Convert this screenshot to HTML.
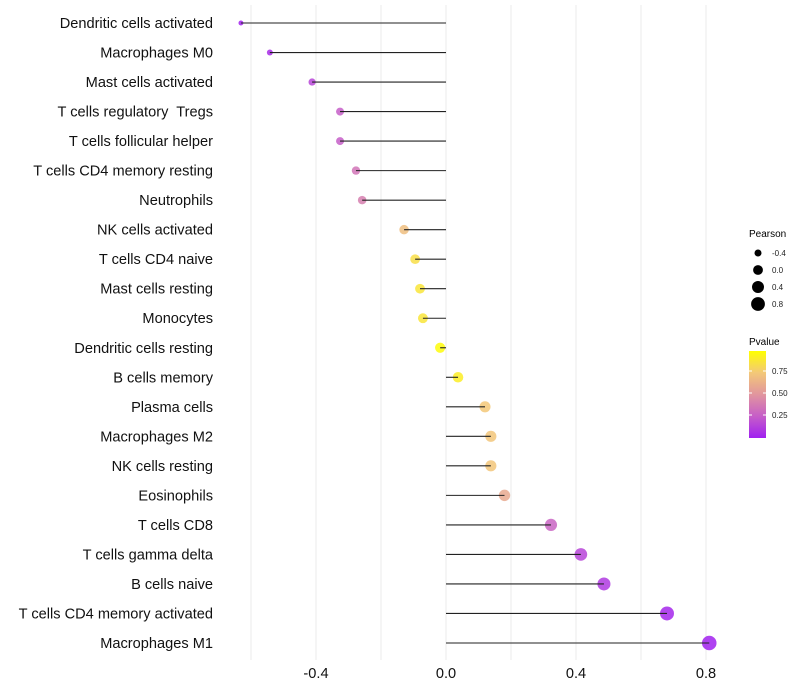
<!DOCTYPE html>
<html><head><meta charset="utf-8"><style>
body{margin:0;background:#fff;}
svg{display:block;font-family:"Liberation Sans",sans-serif;}
text{white-space:pre;}
</style></head><body>
<svg id="chart" width="800" height="700">
<defs>
<linearGradient id="pgrad" x1="0" y1="1" x2="0" y2="0">
<stop offset="0" stop-color="#A020F0"/><stop offset="0.25" stop-color="#C65EC8"/>
<stop offset="0.5" stop-color="#E1959E"/><stop offset="0.75" stop-color="#F3C878"/>
<stop offset="1" stop-color="#FFFF00"/></linearGradient>
</defs>
<g id="grid"></g>
<g id="marks"></g>
<g id="ylabels"></g>
<g id="xlabels"></g>
<g>
<text x="749" y="237" font-size="10">Pearson</text>
<g id="sizeLegend"></g>
</g>
<g>
<text x="749" y="345" font-size="10">Pvalue</text>
<rect x="749" y="351" width="17" height="87" fill="url(#pgrad)"/>
<g id="colorLegend"></g>
</g>
</svg>
<script>
const categories=["Dendritic cells activated","Macrophages M0","Mast cells activated","T cells regulatory  Tregs","T cells follicular helper","T cells CD4 memory resting","Neutrophils","NK cells activated","T cells CD4 naive","Mast cells resting","Monocytes","Dendritic cells resting","B cells memory","Plasma cells","Macrophages M2","NK cells resting","Eosinophils","T cells CD8","T cells gamma delta","B cells naive","T cells CD4 memory activated","Macrophages M1"];
const pearson=[-0.631,-0.542,-0.412,-0.326,-0.326,-0.277,-0.258,-0.129,-0.095,-0.08,-0.071,-0.018,0.037,0.12,0.138,0.138,0.18,0.323,0.415,0.486,0.68,0.81];
const pvalue=[0.01,0.05,0.15,0.25,0.25,0.35,0.4,0.7,0.85,0.88,0.88,0.98,0.92,0.75,0.74,0.74,0.6,0.28,0.15,0.1,0.03,0.005];
const xTicks=[-0.4,0,0.4,0.8];
const xTickLabels=["-0.4","0.0","0.4","0.8"];
const gridVals=[-0.6,-0.4,-0.2,0,0.2,0.4,0.6,0.8];
const sizeLegendVals=[-0.4,0,0.4,0.8];
const sizeLegendLabels=["-0.4","0.0","0.4","0.8"];
const colorLegendVals=[0.25,0.5,0.75];
const colorLegendLabels=["0.25","0.50","0.75"];

const NS="http://www.w3.org/2000/svg";
const x=v=>446+v*325;
const y=i=>23+i*(620/21);
const r=v=>Math.sqrt(Math.max(1,26.6+32.6*v));
const stops=[[0,[160,32,240]],[0.25,[198,94,200]],[0.5,[225,149,158]],[0.75,[243,200,120]],[1,[255,255,0]]];
function col(p){for(let k=1;k<stops.length;k++){if(p<=stops[k][0]){const a=stops[k-1],b=stops[k];const t=(p-a[0])/(b[0]-a[0]);const c=a[1].map((v,j)=>Math.round(v+(b[1][j]-v)*t));return `rgb(${c})`;}}return "rgb(255,255,0)";}
function mk(tag,attrs,parent){const e=document.createElementNS(NS,tag);for(const k in attrs)e.setAttribute(k,attrs[k]);parent.appendChild(e);return e;}
const grid=document.getElementById('grid'),marks=document.getElementById('marks'),yl=document.getElementById('ylabels'),xl=document.getElementById('xlabels');
gridVals.forEach(v=>{const l=mk('line',{x1:x(v),x2:x(v),y1:5,y2:660,stroke:'#ebebeb','stroke-width':1},grid);

});
categories.forEach((c,i)=>{
const pt=mk('circle',{cx:x(pearson[i]),cy:y(i),r:r(pearson[i]),fill:col(pvalue[i]),'fill-opacity':0.85},marks);


const seg=mk('line',{x1:x(0),x2:x(pearson[i]),y1:y(i),y2:y(i),stroke:'#222','stroke-width':1.1},marks);


const t=mk('text',{x:213,y:y(i)+5,'text-anchor':'end','font-size':14.6,fill:'#111'},yl);t.textContent=c;


});
xTicks.forEach((v,i)=>{const t=mk('text',{x:x(v),y:678,'text-anchor':'middle','font-size':14.6,fill:'#111'},xl);t.textContent=xTickLabels[i];

});
const sl=document.getElementById('sizeLegend');
sizeLegendVals.forEach((v,i)=>{const yy=253+i*17;
const c=mk('circle',{cx:758,cy:yy,r:r(v)*0.95,fill:'#000'},sl);


const t=mk('text',{x:772,y:yy+3,'font-size':8,fill:'#222'},sl);t.textContent=sizeLegendLabels[i];

});
const cl=document.getElementById('colorLegend');
colorLegendVals.forEach((v,i)=>{const yy=437-v*88;
const l=mk('line',{x1:749,x2:752,y1:yy,y2:yy,stroke:'#fff'},cl);


const l2=mk('line',{x1:763,x2:766,y1:yy,y2:yy,stroke:'#fff'},cl);


const t=mk('text',{x:772,y:yy+3,'font-size':8,fill:'#222'},cl);t.textContent=colorLegendLabels[i];

});
</script>
</body></html>
